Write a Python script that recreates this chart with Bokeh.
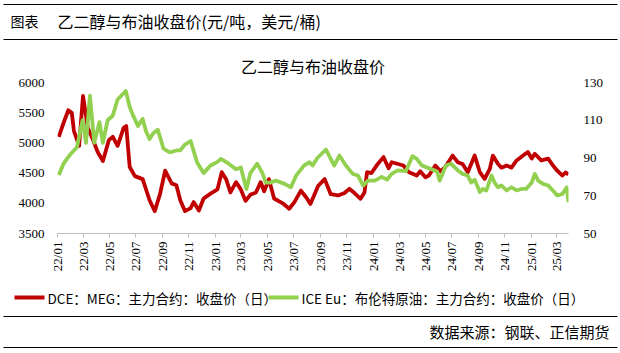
import pandas as pd
from math import pi
from bokeh.plotting import figure
from bokeh.layouts import column
from bokeh.models import (Range1d, LinearAxis, FixedTicker, DatetimeTickFormatter,
                          Label, ColumnDataSource)
from bokeh.embed import file_html
from bokeh.resources import INLINE

# ---------------- texts ----------------
header_tag = "图表"
header_title = "乙二醇与布油收盘价(元/吨，美元/桶)"
chart_title = "乙二醇与布油收盘价"
source_note = "数据来源：钢联、正信期货"
meg_name = "DCE：MEG：主力合约：收盘价（日）"
brent_name = "ICE Eu：布伦特原油：主力合约：收盘价（日）"

# ---------------- data ----------------
meg_dates = [
    "2022-01-04", "2022-01-15", "2022-01-26", "2022-02-03", "2022-02-08", "2022-02-20",
    "2022-03-01", "2022-03-12", "2022-03-23", "2022-04-04", "2022-04-16", "2022-04-30",
    "2022-05-09", "2022-05-20", "2022-06-03", "2022-06-09", "2022-06-17", "2022-06-29",
    "2022-07-17", "2022-08-02", "2022-08-14", "2022-08-26", "2022-09-07", "2022-09-22",
    "2022-10-03", "2022-10-12", "2022-10-23", "2022-11-05", "2022-11-12", "2022-11-24",
    "2022-12-05", "2022-12-21",
    "2023-01-06", "2023-01-16", "2023-01-26", "2023-02-05", "2023-02-18", "2023-03-01",
    "2023-03-12", "2023-03-23", "2023-04-05", "2023-04-16", "2023-04-24", "2023-05-05",
    "2023-05-17", "2023-06-06", "2023-06-21", "2023-07-03", "2023-07-18", "2023-07-30",
    "2023-08-09", "2023-08-27", "2023-09-11", "2023-09-25", "2023-10-12", "2023-10-27",
    "2023-11-07", "2023-11-19", "2023-12-03", "2023-12-12", "2023-12-18", "2023-12-28",
    "2024-01-09", "2024-01-25", "2024-02-06", "2024-02-13", "2024-02-28", "2024-03-11",
    "2024-03-24", "2024-04-11", "2024-04-19", "2024-05-01", "2024-05-09", "2024-05-24",
    "2024-06-05", "2024-06-16", "2024-07-03", "2024-07-15", "2024-07-26", "2024-08-07",
    "2024-08-23", "2024-09-04", "2024-09-15", "2024-09-27", "2024-10-04", "2024-10-16",
    "2024-10-24", "2024-11-05", "2024-11-16", "2024-11-28", "2024-12-13", "2024-12-24",
    "2025-01-02", "2025-01-09", "2025-01-24", "2025-02-09", "2025-02-20", "2025-03-02",
    "2025-03-14", "2025-03-21", "2025-03-28",
]
meg_close = [
    5100, 5330, 5540, 5500, 5200, 4950, 5780, 5250, 5070, 4850, 4700, 5050,
    5100, 4950, 5250, 5280, 4600, 4450, 4400, 4050, 3870, 4150, 4540, 4330,
    4300, 4050, 3870, 3920, 4020, 3880, 4080, 4160,
    4230, 4515, 4400, 4180, 4350, 4230, 4040, 4140, 4180, 4350, 4200, 4400,
    4080, 4000, 3910, 4020, 4210, 4100, 3990, 4290, 4400, 4150, 4130, 4170,
    4240, 4170, 4075, 4180, 4515, 4500,
    4625, 4765, 4580, 4680, 4650, 4625, 4515, 4460, 4530, 4430, 4460, 4625,
    4530, 4600, 4790, 4680, 4650, 4515, 4790, 4515, 4405, 4570, 4790, 4650,
    4590, 4625, 4590, 4710, 4790, 4850,
    4740, 4820, 4710, 4740, 4625, 4540, 4460, 4510, 4480,
]

brent_dates = [
    "2022-01-04", "2022-01-15", "2022-01-31", "2022-02-15", "2022-02-28", "2022-03-08",
    "2022-03-17", "2022-03-27", "2022-04-08", "2022-04-16", "2022-04-27", "2022-05-09",
    "2022-05-20", "2022-06-08", "2022-06-17", "2022-06-24", "2022-07-06", "2022-07-17",
    "2022-07-25", "2022-08-02", "2022-08-10", "2022-08-21", "2022-09-03", "2022-09-18",
    "2022-10-03", "2022-10-12", "2022-10-22", "2022-11-05", "2022-11-20", "2022-12-05",
    "2022-12-21",
    "2023-01-05", "2023-01-14", "2023-02-01", "2023-02-18", "2023-03-01", "2023-03-14",
    "2023-03-23", "2023-04-08", "2023-04-20", "2023-04-28", "2023-05-09", "2023-05-21",
    "2023-06-10", "2023-06-25", "2023-07-07", "2023-07-25", "2023-08-07", "2023-08-14",
    "2023-08-25", "2023-09-14", "2023-10-03", "2023-10-15", "2023-10-30", "2023-11-15",
    "2023-11-27", "2023-12-09", "2023-12-20",
    "2024-01-05", "2024-01-21", "2024-02-02", "2024-02-13", "2024-02-27", "2024-03-17",
    "2024-04-01", "2024-04-11", "2024-04-23", "2024-05-10", "2024-05-28", "2024-06-03",
    "2024-06-12", "2024-06-17", "2024-06-29", "2024-07-15", "2024-07-26", "2024-08-07",
    "2024-08-15", "2024-08-23", "2024-09-04", "2024-09-11", "2024-09-19", "2024-10-01",
    "2024-10-08", "2024-10-16", "2024-10-24", "2024-11-05", "2024-11-16", "2024-11-28",
    "2024-12-09", "2024-12-20",
    "2025-01-02", "2025-01-09", "2025-01-17", "2025-01-28", "2025-02-09", "2025-02-20",
    "2025-03-02", "2025-03-14", "2025-03-24", "2025-03-28",
]
brent_close = [
    81, 87, 92, 95.7, 110, 98, 123, 98, 109, 98, 110, 112.5,
    121, 125.5, 117, 113, 107, 110.7, 104, 100, 103, 105, 95, 93,
    94, 94, 97, 99, 87.6, 82, 86,
    87.8, 89.5, 87, 84, 85, 73.6, 82, 87, 82, 77, 77, 78,
    76.3, 74.5, 80.7, 86, 87.8, 86, 90, 94.5, 86, 91.3, 86, 81.6,
    80.7, 75.4, 78,
    78, 80, 78.5, 81.6, 83.4, 83, 91, 89.5, 86, 84.5, 82.8, 78,
    83, 86, 87, 83.4, 81.6, 80.7, 77, 78.5, 72, 73.6, 72.8, 80.7,
    77, 74.5, 75.4, 72.8, 74.5, 72.8, 73.6, 73.6,
    77, 81.6, 78, 76.3, 75.4, 72.8, 70.1, 71, 74.5, 66.6,
]

tick_labels = ["22/01", "22/03", "22/05", "22/07", "22/09", "22/11",
               "23/01", "23/03", "23/05", "23/07", "23/09", "23/11",
               "24/01", "24/03", "24/05", "24/07", "24/09", "24/11",
               "25/01", "25/03"]
left_ticks = [3500, 4000, 4500, 5000, 5500, 6000]
right_ticks = [50, 70, 90, 110, 130]

# ---------------- styling ----------------
RED = "#C00000"
GREEN = "#92D050"
CJK = "Noto Sans CJK SC"
NUM = "Liberation Serif"
W = 620
LW = 3.8
HEAD_H = 44
FRAME_TOP = 82
FOOT_TOP = 282
MAIN_H = FOOT_TOP - HEAD_H


def to_ms(s):
    return pd.Timestamp(s).value // 10**6


def plain_fig(height, y_top, y_bottom):
    # frame covers the whole canvas; data coordinates = page pixels
    f = figure(width=W, height=height, output_backend="svg", toolbar_location=None,
               x_range=Range1d(0, W), y_range=Range1d(y_bottom, y_top),
               x_axis_location=None, y_axis_location=None, min_border=0,
               frame_align=False)
    f.outline_line_color = None
    f.xgrid.visible = False
    f.ygrid.visible = False
    f.border_fill_color = "white"
    f.background_fill_color = "white"
    return f


def add_text(f, txt, x, y, size, align="left", font=CJK):
    f.add_layout(Label(x=x, y=y, text=txt, text_font=font, text_font_size=size,
                       text_align=align, text_baseline="middle", text_color="#000000"))


def add_rule(f, y):
    f.segment(x0=3, y0=y, x1=W - 3, y1=y, line_color="#000000", line_width=1.2)


# ---------------- header (page rows 0..44) ----------------
head = plain_fig(HEAD_H, 0, HEAD_H)
add_rule(head, 4)
add_rule(head, 39)
add_text(head, header_tag, 10, 20, "14px")
add_text(head, header_title, 57, 20, "16px")

# ---------------- main chart (page rows 44..282) ----------------
tick_ms = [to_ms("20" + t.replace("/", "-") + "-01") for t in tick_labels]
meg_src = ColumnDataSource(dict(x=pd.to_datetime(meg_dates), y=meg_close))
brent_src = ColumnDataSource(dict(x=pd.to_datetime(brent_dates), y=brent_close))

p = figure(width=W, height=MAIN_H, x_axis_type="datetime",
           output_backend="svg", toolbar_location=None,
           x_range=Range1d(tick_ms[0], to_ms(meg_dates[-1])),
           y_range=Range1d(left_ticks[0], left_ticks[-1]),
           min_border_left=57, min_border_right=52,
           min_border_top=FRAME_TOP - HEAD_H, min_border_bottom=49, frame_align=False)
p.title.text = chart_title
p.title.align = "center"
p.title.text_font = CJK
p.title.text_font_size = "16px"
p.title.text_font_style = "normal"
p.title.text_color = "#000000"
p.title.standoff = 10
p.extra_y_ranges = {"brent": Range1d(right_ticks[0], right_ticks[-1])}
p.outline_line_color = None
p.xgrid.visible = False
p.ygrid.visible = False
p.background_fill_color = "white"
p.border_fill_color = "white"

p.line("x", "y", source=meg_src, color=RED, line_width=LW, line_join="round")
p.line("x", "y", source=brent_src, color=GREEN, line_width=LW,
       line_join="round", y_range_name="brent")

xa = p.xaxis[0]
xa.ticker = FixedTicker(ticks=tick_ms)
fmt = "%y/%m"
xa.formatter = DatetimeTickFormatter(years=fmt, months=fmt, days=fmt, hours=fmt,
                                     minutes=fmt, seconds=fmt, milliseconds=fmt,
                                     microseconds=fmt, hourmin=fmt, minsec=fmt)
xa.major_label_orientation = pi / 2
xa.axis_line_color = "#BFBFBF"
xa.major_tick_line_color = "#BFBFBF"
xa.major_tick_out = 4
xa.major_tick_in = 0
xa.minor_tick_line_color = None
xa.major_label_text_font = NUM
xa.major_label_text_font_size = "13px"
xa.major_label_text_color = "#000000"
xa.major_label_standoff = 4

ya = p.yaxis[0]
ya.ticker = FixedTicker(ticks=left_ticks)
ya.axis_line_color = None
ya.major_tick_line_color = None
ya.minor_tick_line_color = None
ya.major_label_text_font = NUM
ya.major_label_text_font_size = "13px"
ya.major_label_text_color = "#000000"
ya.major_label_standoff = 7

ra = LinearAxis(y_range_name="brent", ticker=FixedTicker(ticks=right_ticks))
ra.axis_line_color = None
ra.major_tick_line_color = None
ra.minor_tick_line_color = None
ra.major_label_text_font = NUM
ra.major_label_text_font_size = "13px"
ra.major_label_text_color = "#000000"
ra.major_label_standoff = 9
p.add_layout(ra, "right")

# ---------------- footer (page rows 282..353): legend + source ----------------
foot = plain_fig(353 - FOOT_TOP, FOOT_TOP, 353)
legend_y = 297
foot.segment(x0=14, y0=legend_y, x1=44, y1=legend_y, line_color=RED, line_width=LW)
add_text(foot, meg_name, 47, legend_y, "13.5px")
foot.segment(x0=268, y0=legend_y, x1=298, y1=legend_y, line_color=GREEN, line_width=LW)
add_text(foot, brent_name, 301, legend_y, "13.5px")
add_rule(foot, 316)
add_rule(foot, 347)
add_text(foot, source_note, 609, 331, "15px", align="right")

layout = column(head, p, foot, spacing=0)
open("out.html", "w").write(file_html(layout, INLINE))
